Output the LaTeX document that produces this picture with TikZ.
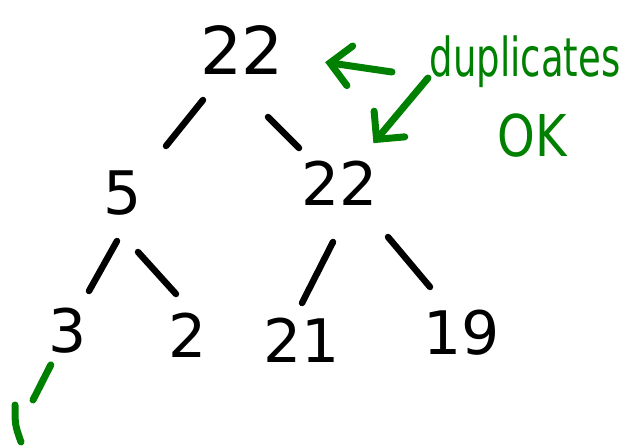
\documentclass[tikz,border=0pt]{standalone}
\usepackage{fontspec}
\setmainfont{DejaVu Sans}
\usetikzlibrary{arrows.meta}
\definecolor{pen}{RGB}{0,128,0}
\tikzset{
  num/.style={inner sep=0pt, font=\fontsize{60}{60}\selectfont},
  bignum/.style={inner sep=0pt, font=\fontsize{66}{66}\selectfont},
  edge/.style={line width=6.5pt, line cap=round},
  note/.style={text=pen, inner sep=0pt},
  greenline/.style={pen, line width=7pt, line cap=round},
  pointer/.style={greenline, -{Straight Barb[length=20pt, width=40pt, line width=7pt, line cap=round]}}
}
\begin{document}
\begin{tikzpicture}[x=1pt, y=-1pt]
\useasboundingbox (0,0) rectangle (628,447);

% the tree
\node[bignum] (r)  at (242,50)  {22};
\node[num]    (a)  at (123,193) {5};
\node[num]    (b)  at (340,183) {22};
\node[num]    (c)  at (68,331)  {3};
\node[num]    (d)  at (188,335) {2};
\node[num]    (e)  at (302,340) {21};
\node[num]    (f)  at (462,333) {19};

% short strokes between parent and child
\draw[edge] ([shift={(-39,50)}]r.center) -- ([shift={(43,-47)}]a.center);
\draw[edge] ([shift={(26,67)}]r.center)  -- ([shift={(-41,-35)}]b.center);
\draw[edge] ([shift={(-6,48)}]a.center)  -- ([shift={(21,-40)}]c.center);
\draw[edge] ([shift={(15,59)}]a.center)  -- ([shift={(-12,-41)}]d.center);
\draw[edge] ([shift={(-7,59)}]b.center)  -- ([shift={(0,-37)}]e.center);
\draw[edge] ([shift={(48,54)}]b.center)  -- ([shift={(-32,-46)}]f.center);

% annotation
\node[note, font=\fontsize{37}{37}\selectfont] (dup) at (525,62) {\scalebox{1}[1.45]{duplicates}};
\node[note, font=\fontsize{48}{48}\selectfont] (ok) at (532,136) {\scalebox{1}[1.2]{OK}};
\coordinate (t1) at (392,72);
\coordinate (t2) at (428,78);
\draw[pointer, shorten >=84pt] (t1) -- (r.center);
\draw[pointer, shorten >=52pt] (t2) -- (b.center);

% unfinished branch below the 3
\coordinate (g1) at (33,400);
\coordinate (g2) at (15,405);
\coordinate (g3) at (21,442);
\draw[greenline, shorten <=38pt] (c.center) -- (g1);
\draw[greenline] (g2) .. controls (15,425) .. (g3);
\end{tikzpicture}
\end{document}
